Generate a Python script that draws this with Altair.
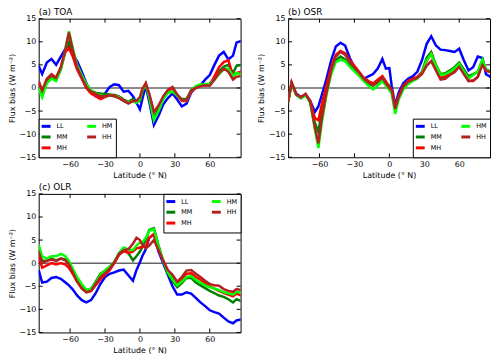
import altair as alt
import pandas as pd

lats = [-87, -84, -80, -76, -72, -68, -64, -61, -58, -54, -50, -46, -42, -38, -34, -30,
        -26, -22, -18, -14, -10, -6, -3, 0, 2, 5, 8, 12, 16, 20, 24, 28, 32, 36, 40, 44,
        48, 52, 56, 60, 64, 68, 72, 76, 80, 83, 87]

series = ["LL", "MM", "MH", "HM", "HH"]
series_colors = ["#0000ff", "#008000", "#ff0000", "#00ff00", "#b22222"]

xticks = [-60, -30, 0, 30, 60]
yticks = [-15, -10, -5, 0, 5, 10, 15]

# ---- (a) TOA ----
toa_LL = [4.8, 3.0, 5.5, 6.3, 5.0, 6.8, 8.5, 9.0, 7.5, 5.8, 3.5, 1.0, -0.8, -1.8, -2.2, -1.2,
          0.2, 0.8, 0.6, -0.8, -0.6, -1.8, -3.2, -4.6, -2.5, 0.5, -3.0, -8.0, -6.0, -3.6, -2.2, -1.2,
          -2.5, -4.0, -3.4, -1.0, 0.2, 0.6, 1.8, 2.8, 5.0, 7.0, 7.8, 6.2, 7.0, 9.8, 10.2]
toa_MM = [1.0, -0.9, 1.5, 2.2, 1.8, 4.0, 8.0, 10.0, 7.5, 4.5, 2.5, 0.5, -0.6, -1.0, -1.2, -1.3,
          -1.4, -1.5, -1.8, -2.5, -3.0, -2.4, -3.0, -2.8, -1.0, 0.8, -1.8, -6.6, -4.5, -2.2, -1.0, -0.8,
          -1.5, -2.4, -2.4, -0.5, 0.3, 0.6, 0.8, 0.9, 2.2, 3.6, 4.6, 5.0, 3.2, 4.8, 5.0]
toa_HM = [0.0, -2.0, 1.0, 2.0, 1.5, 4.0, 8.5, 12.3, 9.0, 5.0, 2.8, 0.8, -0.5, -1.2, -1.6, -1.8,
          -1.6, -1.8, -2.0, -2.8, -3.2, -2.8, -3.2, -2.5, -0.5, 0.8, -2.0, -7.0, -5.0, -2.5, -1.0, -0.8,
          -1.6, -2.6, -2.6, -0.6, 0.4, 0.8, 0.8, 0.8, 1.8, 3.0, 4.0, 4.2, 2.6, 3.2, 3.0]
toa_MH = [1.0, -1.0, 1.8, 2.8, 2.2, 4.5, 7.8, 8.6, 7.0, 4.0, 2.0, 0.0, -1.2, -1.8, -2.4, -2.0,
          -1.6, -1.6, -2.0, -2.6, -3.2, -2.8, -3.0, -2.2, -0.5, 1.0, -1.5, -5.2, -4.0, -2.0, -0.6, 0.0,
          -1.6, -2.8, -2.8, -0.8, 0.0, 0.4, 0.6, 0.6, 2.5, 4.5, 5.6, 6.0, 2.5, 3.2, 3.5]
toa_HH = [1.5, -0.5, 2.0, 3.0, 2.2, 4.5, 8.5, 12.0, 8.5, 4.5, 2.2, 0.2, -0.8, -1.3, -1.8, -1.8,
          -1.6, -1.8, -2.2, -2.8, -3.4, -2.8, -2.8, -2.0, -0.3, 1.0, -1.2, -5.2, -3.8, -1.8, -0.4, 0.2,
          -1.4, -2.6, -2.6, -0.6, 0.0, 0.4, 0.6, 0.5, 1.8, 3.2, 4.2, 3.5, 1.8, 2.4, 2.6]

# ---- (b) OSR ----
osr_LL = [-3.0, 1.0, -1.2, -2.0, -1.4, -2.8, -5.2, -4.0, -1.5, 2.0, 6.0, 9.0, 9.8, 9.2, 6.5, 4.5,
          2.8, 2.0, 2.5, 3.0, 4.2, 6.3, 4.2, 4.3, 0.5, -3.8, -1.0, 1.0, 2.0, 2.5, 3.5, 6.0,
          9.5, 11.2, 9.2, 8.3, 8.2, 8.0, 7.8, 8.5, 6.0, 3.8, 4.5, 6.8, 6.5, 3.0, 2.4]
osr_MM = [-3.0, 1.0, -1.5, -2.2, -1.5, -3.0, -7.5, -9.5, -5.0, -0.5, 3.5, 6.0, 6.8, 6.2, 5.0, 4.0,
          3.0, 2.0, 1.0, 0.5, 1.2, 2.2, 1.2, 0.5, -0.5, -4.8, -2.0, 0.2, 1.2, 1.8, 2.2, 3.5,
          6.5, 7.8, 5.0, 3.0, 3.2, 3.8, 4.5, 5.5, 4.0, 2.5, 3.0, 3.5, 6.0, 4.0, 3.6]
osr_HM = [-3.0, 1.0, -1.5, -2.2, -1.6, -3.2, -9.0, -13.0, -7.5, -1.5, 3.0, 5.6, 6.1, 5.8, 4.6, 3.6,
          2.6, 1.5, 0.5, -0.3, 0.5, 1.5, 0.5, -0.5, -1.2, -5.6, -2.5, -0.3, 0.8, 1.5, 2.0, 3.2,
          6.0, 7.4, 4.8, 2.8, 3.0, 3.5, 4.2, 5.2, 3.6, 2.0, 2.8, 3.5, 6.2, 4.0, 3.6]
osr_MH = [-3.0, 1.2, -1.4, -2.0, -1.3, -2.8, -6.5, -7.0, -3.5, 0.5, 4.5, 7.2, 8.0, 7.5, 6.0, 4.8,
          3.5, 2.2, 1.5, 1.0, 1.8, 2.6, 1.4, 0.2, -0.3, -4.2, -1.8, 0.5, 1.5, 2.0, 2.4, 3.4,
          5.8, 7.5, 4.5, 2.2, 2.5, 3.0, 3.6, 4.8, 3.2, 1.5, 1.5, 2.4, 5.5, 3.8, 3.5]
osr_HH = [-3.0, 1.2, -1.4, -2.0, -1.3, -3.0, -8.5, -12.0, -6.5, -1.0, 3.8, 6.8, 7.8, 7.2, 5.6, 4.5,
          3.3, 2.0, 1.2, 0.6, 1.4, 2.2, 1.0, 0.0, -0.5, -4.5, -2.0, 0.3, 1.3, 1.8, 2.2, 3.0,
          4.8, 5.8, 3.8, 1.8, 2.0, 2.8, 3.4, 4.6, 3.0, 1.5, 1.6, 2.4, 5.0, 3.8, 3.4]

# ---- (c) OLR ----
olr_LL = [-1.5, -4.2, -4.0, -3.2, -3.0, -3.4, -4.2, -4.8, -5.6, -7.0, -8.0, -8.5, -8.0, -6.5, -4.5, -3.0,
          -2.3, -2.0, -1.6, -1.4, -2.6, -3.8, -1.5, 0.2, 1.5, 3.0, 5.5, 6.2, 2.5, 0.0, -2.5, -5.0,
          -6.8, -6.8, -6.3, -6.6, -7.5, -8.5, -9.3, -10.2, -10.6, -10.9, -11.8, -12.6, -13.0, -12.4, -12.2]
olr_MM = [3.0, 0.5, 0.5, 1.0, 0.6, 1.0, 0.8, 0.0, -1.5, -3.5, -5.0, -6.0, -5.5, -4.0, -2.3, -1.6,
          -0.8, 0.2, 1.8, 2.8, 2.2, 0.6, 1.5, 2.5, 3.5, 5.0, 7.2, 7.6, 3.8, 0.5, -2.2, -3.8,
          -5.2, -4.3, -3.2, -3.2, -4.2, -4.8, -5.4, -6.0, -6.5, -7.0, -7.3, -7.8, -8.5, -7.8, -8.2]
olr_HM = [4.0, 1.5, 1.0, 1.5, 1.5, 2.0, 1.5, 0.5, -1.0, -3.0, -4.5, -5.8, -5.5, -4.3, -2.5, -1.5,
          -0.8, 0.3, 2.2, 3.4, 3.0, 2.8, 3.8, 4.5, 4.5, 5.5, 7.0, 7.4, 3.5, 0.5, -2.0, -3.5,
          -4.8, -4.0, -3.0, -2.8, -3.6, -4.2, -4.8, -5.2, -5.5, -5.8, -6.3, -6.5, -6.8, -6.2, -6.4]
olr_MH = [1.5, -1.0, -0.5, 0.0, -0.3, 0.0, -0.3, -1.0, -2.2, -4.0, -5.2, -6.2, -6.0, -4.8, -3.5, -2.5,
          -1.5, 0.0, 1.8, 2.6, 2.2, 2.5, 3.2, 3.4, 3.5, 3.6, 5.5, 6.3, 3.2, 0.5, -1.8, -3.2,
          -4.3, -3.5, -2.3, -2.2, -3.0, -3.6, -4.3, -5.0, -5.5, -6.0, -6.5, -6.8, -7.2, -6.6, -7.0]
olr_HH = [2.5, 0.0, 0.5, 0.8, 0.5, 1.0, 0.6, -0.3, -1.8, -4.0, -5.5, -6.3, -6.0, -4.5, -3.0, -2.2,
          -1.2, 0.2, 2.0, 2.8, 3.0, 4.2, 5.5, 5.0, 4.0, 3.2, 3.8, 5.0, 2.8, 0.6, -1.5, -2.5,
          -4.0, -3.0, -1.6, -1.5, -2.3, -3.0, -3.8, -4.5, -4.8, -4.9, -5.6, -6.0, -6.2, -5.6, -5.8]

W, H = 204, 140
XDOM = [-87, 86.5]
FONT = "DejaVu Sans"


def make_panel(title, values, legend_orient):
    rows = []
    for s in series:
        for lat, v in zip(lats, values[s]):
            rows.append({"lat": lat, "v": v, "s": s})
    df = pd.DataFrame(rows)

    xenc = alt.X("lat:Q", scale=alt.Scale(domain=XDOM, nice=False, zero=False),
                 axis=alt.Axis(values=xticks, title="Latitude (° N)", labelFlush=False))
    yenc = alt.Y("v:Q", scale=alt.Scale(domain=[-15, 15], nice=False, zero=False),
                 axis=alt.Axis(values=yticks, title="Flux bias (W m⁻²)"))

    zero = alt.Chart(pd.DataFrame({"v": [0]})).mark_rule(color="#666666", strokeWidth=1.5).encode(y=yenc)

    lines = alt.Chart(df).mark_line(strokeWidth=2.5, clip=True).encode(
        x=xenc, y=yenc,
        color=alt.Color("s:N",
                        scale=alt.Scale(domain=series, range=series_colors),
                        legend=alt.Legend(title=None, orient=legend_orient, columns=2,
                                          symbolType="M-1.7,0L1.7,0", symbolStrokeWidth=3,
                                          symbolSize=28, labelFontSize=6.5, labelFont=FONT,
                                          labelColor="black",
                                          strokeColor="black", fillColor="white",
                                          padding=3, offset=0, rowPadding=-2,
                                          columnPadding=13, labelOffset=6,
                                          cornerRadius=0)),
        order=alt.Order("lat:Q"),
        detail="s:N",
    )

    xt = pd.DataFrame({"lat": xticks})
    yt = pd.DataFrame({"v": yticks})
    tick_style = dict(color="black", strokeWidth=1)
    tb = alt.Chart(xt).mark_rule(**tick_style).encode(x=xenc, y=alt.value(H), y2=alt.value(H - 4))
    tt = alt.Chart(xt).mark_rule(**tick_style).encode(x=xenc, y=alt.value(0), y2=alt.value(4))
    tl = alt.Chart(yt).mark_rule(**tick_style).encode(y=yenc, x=alt.value(0), x2=alt.value(4))
    tr = alt.Chart(yt).mark_rule(**tick_style).encode(y=yenc, x=alt.value(W), x2=alt.value(W - 4))

    return alt.layer(zero, tb, tt, tl, tr, lines).properties(
        width=W, height=H, title=alt.TitleParams(title, anchor="start", frame="group"))


pa = make_panel("(a) TOA", dict(LL=toa_LL, MM=toa_MM, MH=toa_MH, HM=toa_HM, HH=toa_HH), "bottom-left")
pb = make_panel("(b) OSR", dict(LL=osr_LL, MM=osr_MM, MH=osr_MH, HM=osr_HM, HH=osr_HH), "bottom-right")
pc = make_panel("(c) OLR", dict(LL=olr_LL, MM=olr_MM, MH=olr_MH, HM=olr_HM, HH=olr_HH), "top-right")

top = alt.hconcat(pa, pb, spacing=14).resolve_scale(color="independent").resolve_legend(color="independent")
chart = alt.vconcat(top, pc, spacing=2).resolve_scale(color="independent").resolve_legend(color="independent")

chart = chart.properties(padding={"top": -3, "left": -1, "right": 0, "bottom": 0}).configure_view(
    stroke="black", strokeWidth=1).configure_axis(
    domain=False, ticks=False, grid=False,
    labelFont=FONT, labelFontSize=8, labelColor="black", labelPadding=3,
    titleFont=FONT, titleFontSize=8, titleFontWeight="normal", titleColor="black", titlePadding=3,
).configure_title(font=FONT, fontSize=9, fontWeight="normal", color="black", offset=-2)

chart.save("out.html", embed_options={"renderer": "svg", "actions": False})
